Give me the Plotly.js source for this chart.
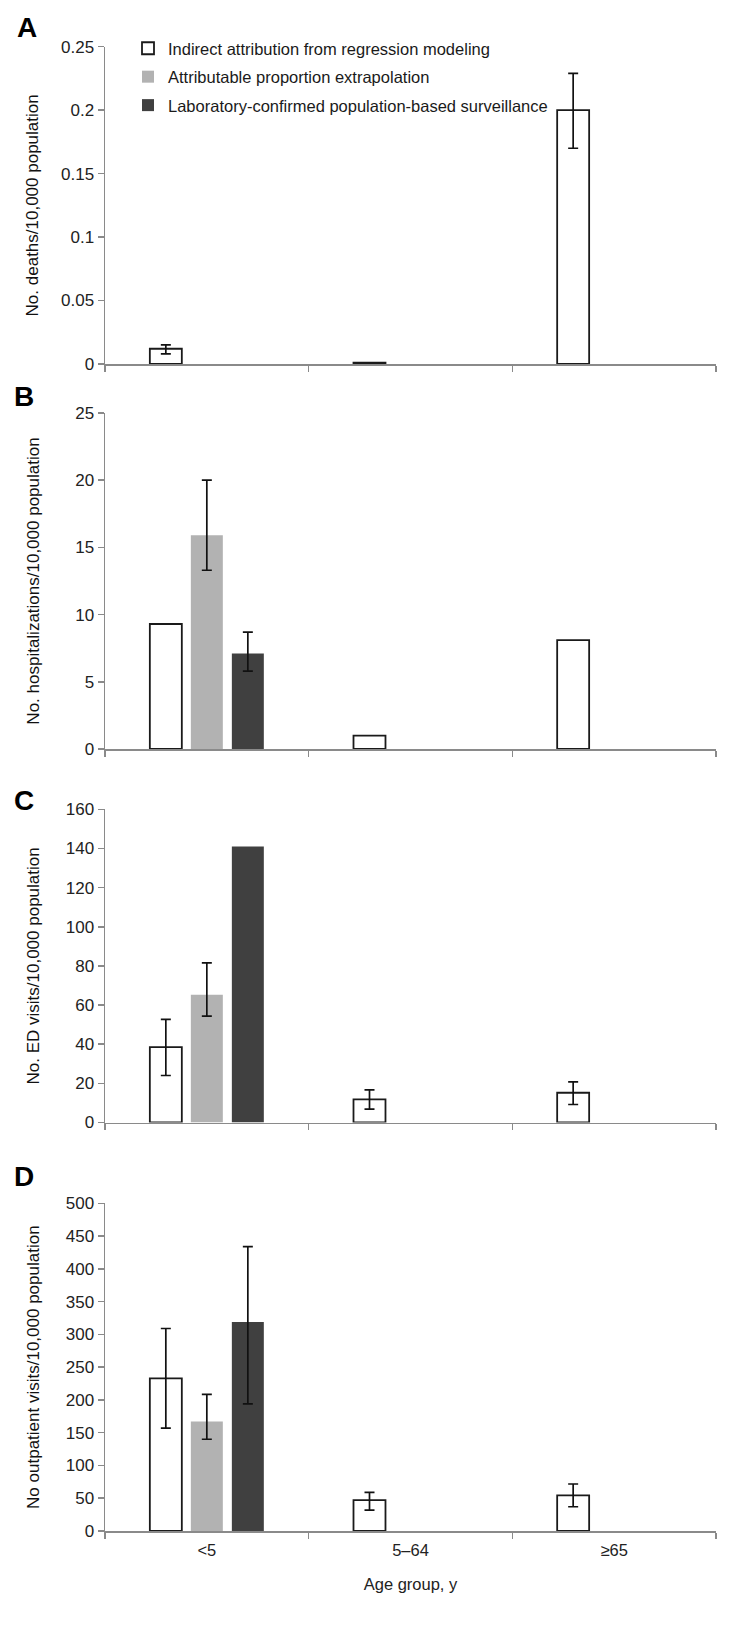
<!DOCTYPE html>
<html><head><meta charset="utf-8">
<script src="https://cdn.plot.ly/plotly-3.0.1.min.js"></script>
<style>html,body{margin:0;padding:0;background:#fff}#chart{width:750px;height:1628px}</style>
</head><body><div id="chart"></div>
<script>
// ---- data ----
const ageGroups = ['<5', '5–64', '≥65'];
const seriesNames = ['Indirect attribution from regression modeling', 'Attributable proportion extrapolation', 'Laboratory-confirmed population-based surveillance'];
const panelLetters = ['A', 'B', 'C', 'D'];
const yTitles = ['No. deaths/10,000 population', 'No. hospitalizations/10,000 population', 'No. ED visits/10,000 population', 'No outpatient visits/10,000 population'];
const xTitle = 'Age group, y';
const yMax = [0.25, 25, 160, 500];
const yStep = [0.05, 5, 20, 50];

// A: deaths
const deathsIndirect = [0.012, 0.001, 0.2];
const deathsIndirectLow = [0.008, null, 0.17];
const deathsIndirectHigh = [0.015, null, 0.229];
const deathsExtrap = [null, null, null];
const deathsLab = [null, null, null];

// B: hospitalizations
const hospIndirect = [9.3, 1.0, 8.1];
const hospExtrap = [15.9, null, null];
const hospExtrapLow = [13.3, null, null];
const hospExtrapHigh = [20.0, null, null];
const hospLab = [7.1, null, null];
const hospLabLow = [5.8, null, null];
const hospLabHigh = [8.7, null, null];

// C: ED visits
const edIndirect = [38.5, 11.8, 15.2];
const edIndirectLow = [24.0, 6.8, 9.2];
const edIndirectHigh = [52.7, 16.7, 20.8];
const edExtrap = [65.3, null, null];
const edExtrapLow = [54.3, null, null];
const edExtrapHigh = [81.5, null, null];
const edLab = [141, null, null];

// D: outpatient visits
const outIndirect = [233, 47, 54.5];
const outIndirectLow = [157, 32, 37];
const outIndirectHigh = [309, 59, 71.7];
const outExtrap = [167, null, null];
const outExtrapLow = [140, null, null];
const outExtrapHigh = [208.5, null, null];
const outLab = [319, null, null];
const outLabLow = [194, null, null];
const outLabHigh = [434, null, null];

// ---- build ----
const panels = [
  [[deathsIndirect, deathsIndirectLow, deathsIndirectHigh], [deathsExtrap, null, null], [deathsLab, null, null]],
  [[hospIndirect, null, null], [hospExtrap, hospExtrapLow, hospExtrapHigh], [hospLab, hospLabLow, hospLabHigh]],
  [[edIndirect, edIndirectLow, edIndirectHigh], [edExtrap, edExtrapLow, edExtrapHigh], [edLab, null, null]],
  [[outIndirect, outIndirectLow, outIndirectHigh], [outExtrap, outExtrapLow, outExtrapHigh], [outLab, outLabLow, outLabHigh]]
];

const W = 750, H = 1628;
const M = {l: 105, r: 34, t: 40, b: 90};
const PW = W - M.l - M.r, PH = H - M.t - M.b;
const panelPx = [[46.7, 364], [413, 749], [809.3, 1122.5], [1203.3, 1531]];
const letterPx = [[27, 28], [24, 397], [24, 800], [24, 1176]];
const yFrac = py => (H - M.b - py) / PH;
const xFrac = px => (px - M.l) / PW;

const fills = ['#ffffff', '#b2b2b2', '#404040'];
const lines = ['#1a1a1a', '#b2b2b2', '#404040'];
const lineW = [1.8, 0, 0];
const FONT = 'Liberation Sans, Arial, sans-serif';
const AXC = '#8a8a8a';

const traces = [];
const layout = {
  width: W, height: H, margin: M,
  paper_bgcolor: '#fff', plot_bgcolor: '#fff',
  barmode: 'group', bargap: 0.396, bargroupgap: 0.22,
  font: {family: FONT, color: '#222'},
  showlegend: true,
  legend: {x: xFrac(128), xanchor: 'left', y: yFrac(31), yanchor: 'top',
           font: {size: 16.5, family: FONT, color: '#1a1a1a'}, bgcolor: 'rgba(0,0,0,0)',
           traceorder: 'grouped', tracegroupgap: 4},
  annotations: [],
};

const yStandoff = [18, 31, 22, 22];

panels.forEach((panel, p) => {
  const xa = p === 0 ? 'x' : 'x' + (p + 1);
  const ya = p === 0 ? 'y' : 'y' + (p + 1);
  const xk = p === 0 ? 'xaxis' : 'xaxis' + (p + 1);
  const yk = p === 0 ? 'yaxis' : 'yaxis' + (p + 1);
  panel.forEach((s, i) => {
    const [vals, lo, hi] = s;
    const t = {
      type: 'bar', name: seriesNames[i], x: ageGroups, y: vals,
      xaxis: xa, yaxis: ya, legendgroup: 'g' + i, showlegend: p === 0,
      marker: {color: fills[i], line: {color: lines[i], width: lineW[i]}},
      hoverinfo: 'skip'
    };
    if (lo && hi) {
      t.error_y = {
        type: 'data', symmetric: false,
        array: vals.map((v, k) => (hi[k] == null || v == null) ? NaN : hi[k] - v),
        arrayminus: vals.map((v, k) => (lo[k] == null || v == null) ? NaN : v - lo[k]),
        color: '#111', thickness: 1.7, width: 5
      };
    }
    traces.push(t);
  });
  const [top, bot] = panelPx[p];
  layout[xk] = {
    domain: [0, 1], anchor: ya, type: 'category', range: [-0.5, 2.5],
    showline: true, linecolor: AXC, linewidth: 1.5,
    ticks: 'outside', tickson: 'boundaries', ticklen: 6, tickcolor: AXC, tickwidth: 1.5,
    showticklabels: p === 3, ticklabelstandoff: 4,
    tickfont: {size: 16.5, family: FONT, color: '#222'},
    showgrid: false, zeroline: false, fixedrange: true
  };
  if (p === 3) layout[xk].title = {text: xTitle, font: {size: 16.5, family: FONT, color: '#222'}, standoff: 20};
  layout[yk] = {
    domain: [yFrac(bot), yFrac(top)], anchor: xa,
    range: [0, yMax[p]], dtick: yStep[p], tick0: 0,
    showline: true, linecolor: AXC, linewidth: 1.5,
    ticks: 'outside', ticklen: 6, tickcolor: AXC, tickwidth: 1.5,
    tickfont: {size: 17, family: FONT, color: '#222'},
    showgrid: false, zeroline: false, fixedrange: true,
    title: {text: yTitles[p], font: {size: 17, family: FONT, color: '#111'}, standoff: yStandoff[p]}
  };
  layout.annotations.push({
    text: '<b>' + panelLetters[p] + '</b>', xref: 'paper', yref: 'paper',
    x: xFrac(letterPx[p][0]), y: yFrac(letterPx[p][1]), xanchor: 'center', yanchor: 'middle',
    showarrow: false, font: {size: 28, family: FONT, color: '#000'}
  });
});

Plotly.newPlot('chart', traces, layout, {staticPlot: true, displayModeBar: false});
</script></body></html>
